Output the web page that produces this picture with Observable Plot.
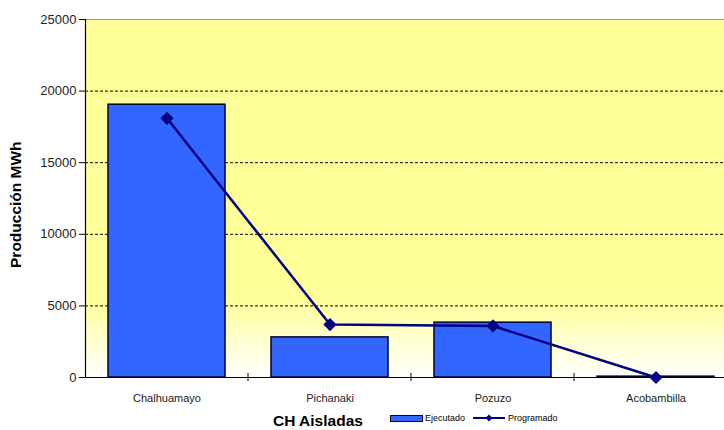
<!DOCTYPE html>
<html>
<head>
<meta charset="utf-8">
<script src="https://cdn.jsdelivr.net/npm/d3@7"></script>
<script src="https://cdn.jsdelivr.net/npm/@observablehq/plot@0.6"></script>
<style>
  body { margin: 0; background: #fff; font-family: "Liberation Sans", Arial, sans-serif; }
  #wrap { position: relative; width: 724px; height: 430px; }
  #xlabel { position: absolute; left: 273px; top: 412px; font-weight: bold; font-size: 15.5px; color: #000; }
  #legend { position: absolute; left: 390px; top: 412px; font-size: 9px; color: #000; display: flex; align-items: center; height: 12px; }
  .sw { display: inline-block; }
</style>
</head>
<body>
<div id="wrap">
  <div id="chart"></div>
  <div id="xlabel">CH Aisladas</div>
  <div id="legend">
    <span class="sw" style="width:31px;height:5px;background:#3366FF;border:1px solid #000033;"></span>
    <span style="margin-left:2px;">Ejecutado</span>
    <svg width="34" height="12" style="margin-left:7px;"><line x1="1" x2="33" y1="6" y2="6" stroke="#000080" stroke-width="2"/><path d="M17,2.5L20.5,6L17,9.5L13.5,6Z" fill="#000080"/></svg>
    <span style="margin-left:2px;">Programado</span>
  </div>
</div>
<script>
const categories = ["Chalhuamayo", "Pichanaki", "Pozuzo", "Acobambilla"];
const ejecutado = [19050, 2800, 3830, 60];
const programado = [18100, 3700, 3600, 0];
const yTicks = [0, 5000, 10000, 15000, 20000, 25000];

const data = categories.map((c, i) => ({cat: c, ej: ejecutado[i], pr: programado[i]}));

const plot = Plot.plot({
  width: 724,
  height: 430,
  marginLeft: 85,
  marginRight: 0,
  marginTop: 19,
  marginBottom: 53,
  style: {fontFamily: "Liberation Sans, Arial, sans-serif", background: "transparent"},
  x: {domain: categories, range: [85, 737], paddingInner: 0.28, paddingOuter: 0.14, label: null},
  y: {domain: [0, 25000], label: null},
  marks: [
    Plot.frame({fill: "url(#bgGrad)", stroke: null}),
    Plot.ruleY([25000], {stroke: "#999", strokeWidth: 1}),
    Plot.ruleY(yTicks.filter(d => d > 0 && d < 25000), {stroke: "#000", strokeWidth: 1, strokeDasharray: "3,2"}),
    Plot.barY(data, {x: "cat", y: "ej", fill: "#3366FF", stroke: "#000033", strokeWidth: 1.5}),
    Plot.frame({anchor: "left", stroke: "#000", strokeWidth: 1.2}),
    Plot.ruleY([0], {stroke: "#000", strokeWidth: 1.2}),
    Plot.line(data, {x: "cat", y: "pr", stroke: "#000080", strokeWidth: 2.5}),
    Plot.dot(data, {x: "cat", y: "pr", symbol: "diamond2", r: 5, fill: "#000080", stroke: "#000080"}),
    Plot.axisY({ticks: yTicks, tickFormat: d => String(d), tickSize: 6, tickPadding: 3, fontSize: 13, label: "Producción MWh", labelAnchor: "center", labelArrow: "none", labelOffset: 76}),
    Plot.axisX({tickSize: 0, tickPadding: 17, fontSize: 11, label: null})
  ]
});

const svg = d3.select(plot);
const defs = svg.insert("defs", ":first-child");
const g = defs.append("linearGradient").attr("id", "bgGrad").attr("x1", 0).attr("x2", 0).attr("y1", 0).attr("y2", 1);
g.append("stop").attr("offset", "0%").attr("stop-color", "#FFFF99");
g.append("stop").attr("offset", "78%").attr("stop-color", "#FFFF99");
g.append("stop").attr("offset", "100%").attr("stop-color", "#FFFFFF");

// category separator ticks via the band scale
const xs = plot.scale("x");
const ys = plot.scale("y");
const seps = categories.slice(1).map(c => xs.apply(c) - (xs.step - xs.bandwidth) / 2);
svg.append("g").selectAll("line").data(seps).join("line")
  .attr("x1", d => d).attr("x2", d => d)
  .attr("y1", ys.apply(0) - 4).attr("y2", ys.apply(0) + 4)
  .attr("stroke", "#000").attr("stroke-width", 1);

svg.selectAll("g[aria-label='y-axis label'] text").attr("font-weight", "bold").attr("font-size", 15.5).attr("dx", "-0.4em");
svg.selectAll("g[aria-label='y-axis tick label'] text, g[aria-label='x-axis tick label'] text").attr("fill", "#222");

document.getElementById("chart").appendChild(plot);
</script>
</body>
</html>
